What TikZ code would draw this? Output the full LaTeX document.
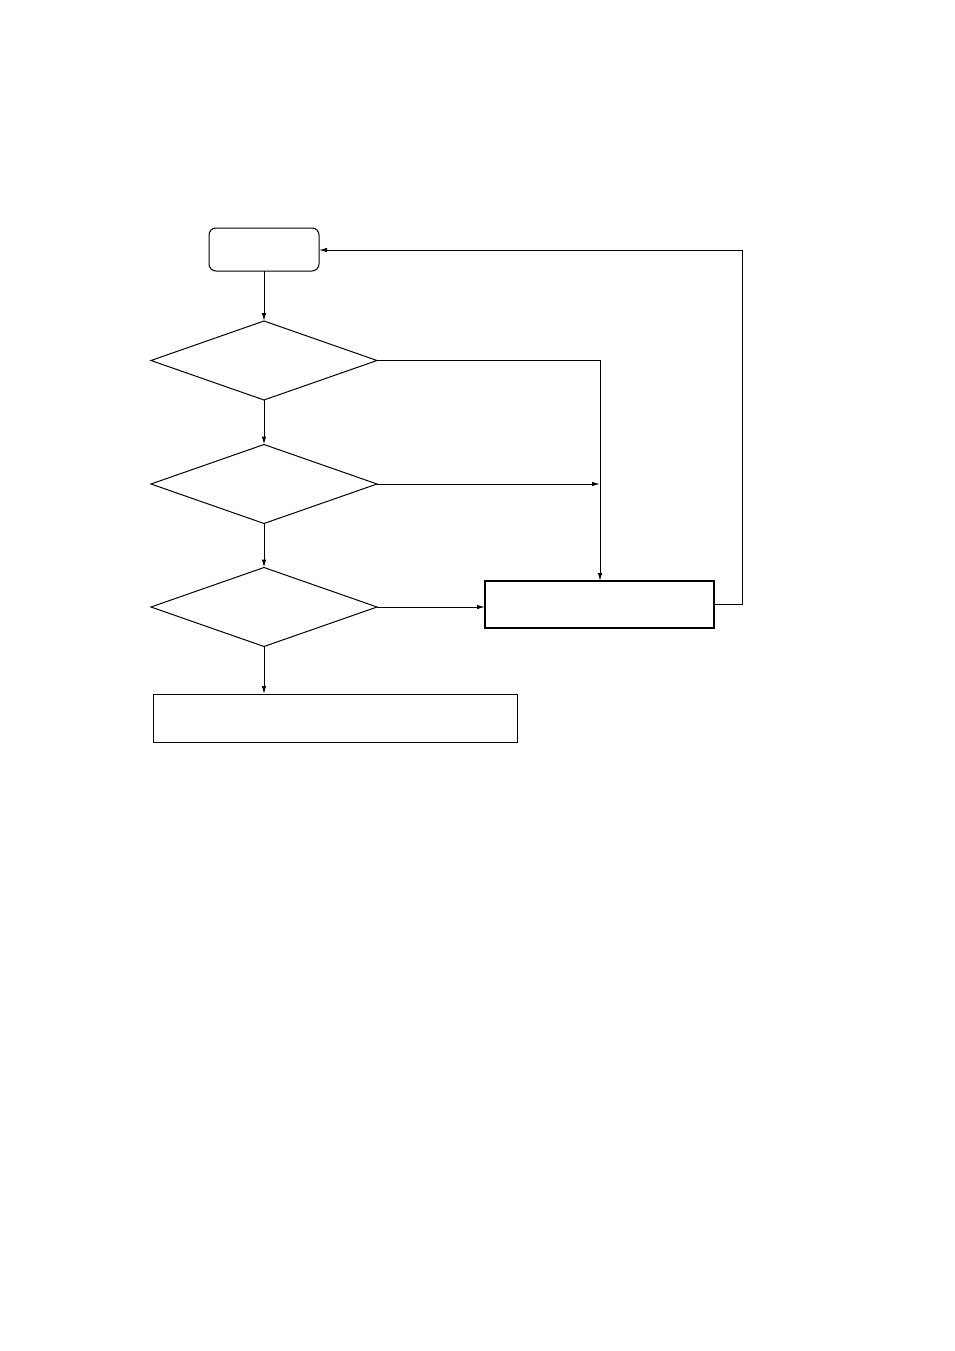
\documentclass[tikz,border=0pt]{standalone}
\usetikzlibrary{shapes.geometric,arrows.meta}
\begin{document}
\begin{tikzpicture}[x=1pt,y=-1pt,
  line width=1pt,
  conn/.style={-{Latex[length=8pt,width=4.5pt]}},
  startbox/.style={draw,rounded corners=7pt,minimum width=110pt,minimum height=43pt,inner sep=0pt,outer sep=0pt},
  decision/.style={draw,diamond,minimum width=226pt,minimum height=79pt,inner sep=0pt,outer sep=0pt},
  procbox/.style={draw,minimum width=229pt,minimum height=47pt,inner sep=0pt,outer sep=0pt,line width=2pt},
  endbox/.style={draw,minimum width=364pt,minimum height=48pt,inner sep=0pt,outer sep=0pt}]
\useasboundingbox (0,0) rectangle (954,1351);
\node[startbox] (start) at (264,249.5) {};
\node[decision] (d1) at (264,360.5) {};
\node[decision] (d2) at (264,484) {};
\node[decision] (d3) at (264,607) {};
\node[procbox] (proc) at (599.5,604.5) {};
\node[endbox] (final) at (335,718) {};
\coordinate (c1) at (600,360.5);
\coordinate (c2) at (600,484);
\coordinate (c3) at (742,604.5);
\coordinate (c4) at (742,250);
\draw[conn] (start) -- (d1);
\draw[conn] (d1) -- (d2);
\draw[conn] (d2) -- (d3);
\draw[conn] (d3) -- (d3 |- final.north);
\draw[conn] (d1.east) -- (c1) -- (proc.north -| c1);
\draw[conn] (d2.east) -- (c2);
\draw[conn] (d3.east) -- (proc.west |- d3.east);
\draw[conn] (proc.east) -- (c3) -- (c4) -- (start.east |- c4);
\end{tikzpicture}
\end{document}
